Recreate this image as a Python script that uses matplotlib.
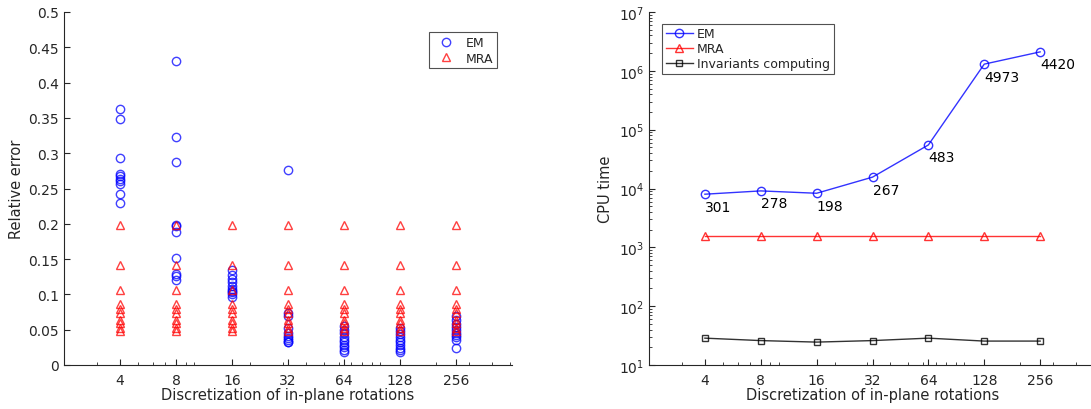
import matplotlib
matplotlib.use('Agg')
import matplotlib.pyplot as plt

# discretization values (x axis, log2)
disc = [4, 8, 16, 32, 64, 128, 256]

# relative error per trial, one list per discretization
em_err = [
    [0.363, 0.348, 0.293, 0.271, 0.268, 0.264, 0.260, 0.257, 0.242, 0.230],
    [0.430, 0.323, 0.288, 0.199, 0.197, 0.188, 0.151, 0.129, 0.126, 0.120],
    [0.135, 0.128, 0.122, 0.117, 0.112, 0.108, 0.105, 0.103, 0.100, 0.097],
    [0.276, 0.074, 0.069, 0.052, 0.046, 0.041, 0.038, 0.035, 0.033, 0.032],
    [0.055, 0.050, 0.045, 0.040, 0.036, 0.032, 0.029, 0.025, 0.021, 0.019],
    [0.052, 0.048, 0.044, 0.040, 0.036, 0.032, 0.028, 0.024, 0.021, 0.019],
    [0.069, 0.064, 0.058, 0.054, 0.050, 0.046, 0.042, 0.039, 0.036, 0.024],
]
mra_err = [0.198, 0.141, 0.106, 0.087, 0.080, 0.073, 0.064, 0.059, 0.053, 0.048]

# CPU time
em_time = [8.0e3, 9.1e3, 8.3e3, 1.56e4, 5.5e4, 1.3e6, 2.1e6]
mra_time = [1.55e3] * 7
inv_time = [28.6, 26.0, 24.5, 26.0, 28.6, 25.5, 25.5]
em_labels = ['301', '278', '198', '267', '483', '4973', '4420']

txt = '#262626'
plt.rcParams['font.family'] = 'DejaVu Sans'
plt.rcParams['text.color'] = txt
plt.rcParams['axes.labelcolor'] = txt
plt.rcParams['xtick.color'] = txt
plt.rcParams['ytick.color'] = txt
plt.rcParams['axes.edgecolor'] = txt

fig = plt.figure(figsize=(10.91, 4.10), dpi=100)
ax1 = fig.add_axes([64 / 1091, 44 / 410, 448 / 1091, 353 / 410])
ax2 = fig.add_axes([649 / 1091, 44 / 410, 447 / 1091, 353 / 410])

minors = [3, 5, 6, 7, 9, 10, 20, 30, 40, 50, 60, 70, 80, 90, 100, 200, 300, 400, 500]


def style_x(ax):
    ax.set_xscale('log', base=2)
    ax.set_xlim(2, 512)
    ax.set_xticks(disc)
    ax.set_xticklabels([str(d) for d in disc])
    ax.set_xticks(minors, minor=True)
    ax.set_xticklabels([], minor=True)
    ax.set_xlabel('Discretization of in-plane rotations', fontsize=10.5, labelpad=0)
    for s in ['top', 'right']:
        ax.spines[s].set_visible(False)
    ax.tick_params(which='both', direction='in', labelsize=10)
    ax.tick_params(which='major', length=4)
    ax.tick_params(which='minor', length=2)
    ax.tick_params(axis='x', which='major', pad=6)


# left: relative error
for i, d in enumerate(disc):
    ax1.plot([d] * len(em_err[i]), em_err[i], 'o', color='b', mfc='none',
             ms=6, mew=1, alpha=0.75, label='EM' if i == 0 else None)
    ax1.plot([d] * len(mra_err), mra_err, '^', color='r', mfc='none',
             ms=6, mew=1, alpha=0.75, label='MRA' if i == 0 else None)
style_x(ax1)
ax1.set_ylim(0, 0.5)
ax1.set_yticks([0, 0.05, 0.1, 0.15, 0.2, 0.25, 0.3, 0.35, 0.4, 0.45, 0.5])
ax1.set_yticklabels(['0', '0.05', '0.1', '0.15', '0.2', '0.25', '0.3', '0.35',
                     '0.4', '0.45', '0.5'])
ax1.set_ylabel('Relative error', fontsize=10.5, labelpad=3)
leg1 = ax1.legend(loc='upper right', bbox_to_anchor=(0.98, 0.96), fontsize=9,
                  fancybox=False, edgecolor=txt, handletextpad=0.6,
                  borderpad=0.3, labelspacing=0.2)
leg1.get_frame().set_linewidth(0.8)

# right: CPU time
ax2.plot(disc, em_time, 'o-', color='b', mfc='none', ms=6, lw=1, mew=1,
         alpha=0.8, label='EM')
ax2.plot(disc, mra_time, '^-', color='r', mfc='none', ms=6, lw=1, mew=1,
         alpha=0.8, label='MRA')
ax2.plot(disc, inv_time, 's-', color='k', mfc='none', ms=4.5, lw=1, mew=1,
         alpha=0.8, label='Invariants computing')
for d, t, lab in zip(disc, em_time, em_labels):
    ax2.annotate(lab, (d, t), xytext=(0, -4), textcoords='offset points',
                 ha='left', va='top', fontsize=10, color='k')
style_x(ax2)
ax2.set_yscale('log')
ax2.set_ylim(10, 1e7)
ax2.set_ylabel('CPU time', fontsize=10.5)
leg2 = ax2.legend(loc='upper left', bbox_to_anchor=(0.015, 0.985), fontsize=9,
                  fancybox=False, edgecolor=txt, handlelength=2.2,
                  handletextpad=0.3, borderpad=0.3, labelspacing=0.15)
leg2.get_frame().set_linewidth(0.8)

fig.savefig('out.png', dpi=100)
